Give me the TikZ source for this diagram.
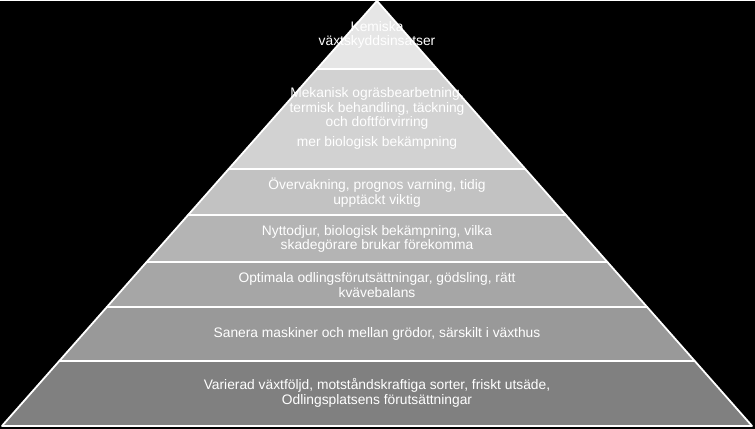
\documentclass[tikz,border=0pt]{standalone}
\usepackage{fontspec}
\setmainfont{Liberation Sans}
\begin{document}
\begin{tikzpicture}[x=1pt,y=-1pt,
  lbl/.style={text=white,font=\fontsize{13.8}{14.5}\selectfont,align=center}]
\fill[black] (0,0) rectangle (755,428);
\foreach \a/\b/\c in {0/68/E6E6E6,68/168/D2D2D2,168/214/C2C2C2,214/261/B4B4B4,261/306/A6A6A6,306/360/999999,360/425/808080}{
  \definecolor{bc}{HTML}{\c}
  \pgfmathsetmacro\wa{\a/425*375}
  \pgfmathsetmacro\wb{\b/425*375}
  \filldraw[fill=bc,draw=white,line width=1.8pt,line join=round]
    (377-\wa,\a) -- (377+\wa,\a) -- (377+\wb,\b) -- (377-\wb,\b) -- cycle;
}
\node[lbl] (t1) at (377,34) {Kemiska\\växtskyddsinsatser};
\node[lbl] (t2) at (377,108) {Mekanisk ogräsbearbetning,\\termisk behandling, täckning\\och doftförvirring};
\node[lbl] (t2b) at (377,142) {mer biologisk bekämpning};
\node[lbl] (t3) at (377,192) {Övervakning, prognos varning, tidig\\upptäckt viktig};
\node[lbl] (t4) at (377,238) {Nyttodjur, biologisk bekämpning, vilka\\skadegörare brukar förekomma};
\node[lbl] (t5) at (377,284) {Optimala odlingsförutsättningar, gödsling, rätt\\kvävebalans};
\node[lbl] (t6) at (377,333) {Sanera maskiner och mellan grödor, särskilt i växthus};
\node[lbl] (t7) at (377,392) {Varierad växtföljd, motståndskraftiga sorter, friskt utsäde,\\Odlingsplatsens förutsättningar};
\end{tikzpicture}
\end{document}
